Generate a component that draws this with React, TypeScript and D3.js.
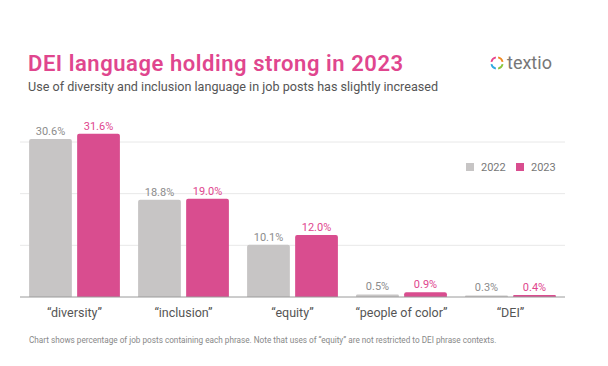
import React from 'react';
import * as d3 from 'd3';

const categories = ['\u201Cdiversity\u201D', '\u201Cinclusion\u201D', '\u201Cequity\u201D', '\u201Cpeople of color\u201D', '\u201CDEI\u201D'];
const years = ['2022', '2023'];
const values2022 = [30.6, 18.8, 10.1, 0.5, 0.3];
const values2023 = [31.6, 19.0, 12.0, 0.9, 0.4];
const gridTicks = [10, 20, 30];

const W = 608;
const H = 366;
const barColor = { '2022': '#c7c5c5', '2023': '#d94d8f' };
const labelColor = { '2022': '#8c8c8c', '2023': '#e0468e' };
const font = 'Roboto, "Noto Sans", sans-serif';

function App() {
	const x0 = d3.scaleBand().domain(categories).range([20, 565]).paddingInner(0.167).paddingOuter(0.0835);
	const x1 = d3.scaleBand().domain(years).range([0, x0.bandwidth()]).paddingInner(0.11);
	const y = d3.scaleLinear().domain([0, 30]).range([297, 142]);

	const rows = categories.map((c, i) => ({ c, vals: [values2022[i], values2023[i]] }));

	const arc = d3.arc();
	const logoColors = ['#f08a24', '#8cc63f', '#2fa9e0', '#e8458b'];
	const logoArcs = logoColors.map((col, i) => ({
		col,
		d: arc({ innerRadius: 4.8, outerRadius: 6.6, startAngle: (i * Math.PI) / 2 + 0.2, endAngle: ((i + 1) * Math.PI) / 2 - 0.2 } as any),
	}));

	const topRounded = (x: number, yTop: number, w: number, yBase: number, r: number) => {
		const h = yBase - yTop;
		const rr = Math.min(r, h / 2, w / 2);
		return `M${x},${yBase}V${yTop + rr}Q${x},${yTop} ${x + rr},${yTop}H${x + w - rr}Q${x + w},${yTop} ${x + w},${yTop + rr}V${yBase}Z`;
	};

	return (
		<svg width={W} height={H} style={{ position: 'absolute', left: 0, top: 0, background: '#fff' }} fontFamily={font}>
			<text x={28} y={71} fontSize={22} fontWeight={600} letterSpacing={0.55} fill="#e0468e">DEI language holding strong in 2023</text>
			<text x={28} y={91} fontSize={12.6} fill="#555">Use of diversity and inclusion language in job posts has slightly increased</text>

			<g transform="translate(497,63)">
				{logoArcs.map((a, i) => <path key={i} d={a.d || ''} fill={a.col} />)}
			</g>
			<text x={507} y={69} fontSize={18} fill="#777">textio</text>

			{gridTicks.map(t => (
				<line key={t} x1={20} x2={565} y1={y(t)} y2={y(t)} stroke="#e8e8e8" strokeWidth={1} />
			))}

			{rows.map((r, i) => (
				<g key={r.c} transform={`translate(${x0(r.c)},0)`}>
					{years.map((yr, j) => {
						const bx = x1(yr) as number;
						const v = r.vals[j];
						return (
							<g key={yr}>
								<path d={topRounded(bx, y(v), x1.bandwidth(), y(0), 2)} fill={barColor[yr]} />
								<text x={bx + x1.bandwidth() / 2} y={y(v) - 4} textAnchor="middle" fontSize={11} fill={labelColor[yr]}>
									{v.toFixed(1)}%
								</text>
							</g>
						);
					})}
					<text x={x0.bandwidth() / 2} y={317} textAnchor="middle" fontSize={12.5} fill="#555">{r.c}</text>
				</g>
			))}

			<line x1={20} x2={565} y1={y(0)} y2={y(0)} stroke="#9a9a9a" strokeWidth={1} />

			{years.map((yr, j) => (
				<g key={yr} transform={`translate(${466 + j * 50},163)`}>
					<rect width={8} height={8} fill={barColor[yr]} />
					<text x={15} y={8} fontSize={11} fill="#777">{yr}</text>
				</g>
			))}

			<text x={29} y={343} fontSize={8.2} fill="#888">
				Chart shows percentage of job posts containing each phrase. Note that uses of &ldquo;equity&rdquo; are not restricted to DEI phrase contexts.
			</text>
		</svg>
	);
}

export default App;
